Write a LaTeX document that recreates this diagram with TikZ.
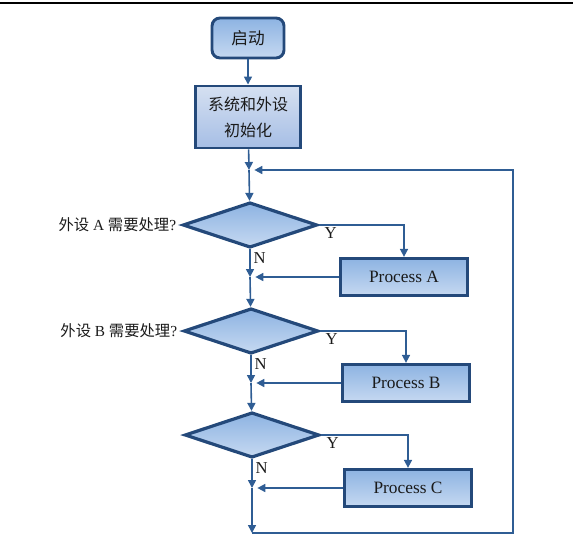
\documentclass[tikz,border=0pt]{standalone}
\usepackage{fontspec}
\setmainfont{Liberation Serif}
\newfontfamily\cjk{Noto Sans CJK SC}
\usetikzlibrary{shapes.geometric,arrows.meta,positioning}
\definecolor{ink}{HTML}{1A1A1A}
\definecolor{boxline}{HTML}{24497A}
\definecolor{flowline}{HTML}{2F5D94}
\definecolor{shadetop}{HTML}{8DB3E2}
\definecolor{shadebot}{HTML}{C6D9F1}
\definecolor{initop}{HTML}{D5E0F1}
\definecolor{inibot}{HTML}{A6BEE5}

\begin{document}
\begin{tikzpicture}[
  x=0.75pt, y=-0.75pt, color=ink,
  box/.style={draw=boxline, line width=2.2pt, top color=shadetop, bottom color=shadebot,
              align=center, inner sep=0pt},
  startbox/.style={box, rounded corners=6pt, minimum width=54pt, minimum height=30pt,
                   font=\fontsize{12.5}{14}\selectfont\cjk},
  initbox/.style={box, top color=initop, bottom color=inibot, minimum width=79pt,
                  minimum height=46.5pt, font=\fontsize{12}{19.5}\selectfont\cjk},
  procbox/.style={box, minimum width=95pt, minimum height=28pt, font=\fontsize{13}{15}\selectfont},
  decision/.style={box, diamond, minimum width=101pt, minimum height=34pt, line width=2.4pt},
  flow/.style={-{Triangle[length=6pt, width=6pt]}, line width=1.2pt, draw=flowline},
  merge/.style={flow, shorten >=4pt},
  yn/.style={font=\fontsize{12.5}{14}\selectfont, inner sep=1pt},
  ask/.style={font=\fontsize{11.5}{13}\selectfont, inner sep=1pt},
]
\useasboundingbox (0,0) rectangle (573,556);
\draw[line width=1.6pt, black] (0,3) -- (573,3);

% nodes
\node[startbox] (start) at (248,38) {启动};
\node[initbox] (init) at (248,117) {系统和外设\\初始化};
\node[decision] (diaA) at (250,225) {};
\node[decision] (diaB) at (251,331) {};
\node[decision] (diaC) at (252,435) {};
\node[procbox] (procA) at (404,277) {Process A};
\node[procbox] (procB) at (406,383) {Process B};
\node[procbox] (procC) at (408,488) {Process C};

% join points
\coordinate (loopin) at (249,170);
\coordinate (jA) at (250,277);
\coordinate (jB) at (251,383);
\coordinate (jC) at (252,488);
\coordinate (bottom) at (252,533);
\coordinate (loopturn) at (513,170);

% labels
\node[ask, left=2.5pt of diaA.west] (askA) {{\cjk 外设} A {\cjk 需要处理}?};
\node[ask, left=2.5pt of diaB.west] (askB) {{\cjk 外设} B {\cjk 需要处理}?};
\node[yn, below right=1pt and 3pt of diaA.east] (yA) {Y};
\node[yn, below right=1pt and 3pt of diaB.east] (yB) {Y};
\node[yn, below right=1pt and 3pt of diaC.east] (yC) {Y};
\node[yn, below right=1pt and 1.5pt of diaA.south] (nA) {N};
\node[yn, below right=1pt and 1.5pt of diaB.south] (nB) {N};
\node[yn, below right=1pt and 1.5pt of diaC.south] (nC) {N};

% connectors
\draw[flow] (start) -- (init);
\draw[flow] (init) -- (loopin);
\draw[flow] (loopin) -- (diaA);
\draw[flow] (diaA.east) -| (procA);
\draw[flow] (diaA) -- (jA);
\draw[merge] (procA) -- (jA);
\draw[flow] (jA) -- (diaB);
\draw[flow] (diaB.east) -| (procB);
\draw[flow] (diaB) -- (jB);
\draw[merge] (procB) -- (jB);
\draw[flow] (jB) -- (diaC);
\draw[flow] (diaC.east) -| (procC);
\draw[flow] (diaC) -- (jC);
\draw[merge] (procC) -- (jC);
\draw[flow] (jC) -- (bottom);
\draw[merge] (bottom) -| (loopturn) -- (loopin);
\end{tikzpicture}
\end{document}
